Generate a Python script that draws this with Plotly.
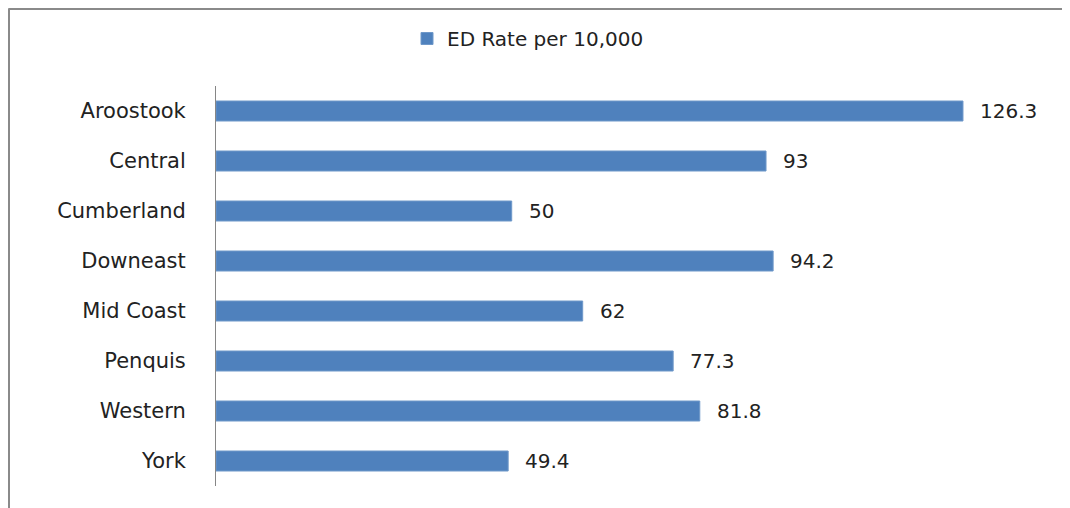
import plotly.graph_objects as go

regions = ["Aroostook", "Central", "Cumberland", "Downeast", "Mid Coast", "Penquis", "Western", "York"]
ed_rate = [126.3, 93, 50, 94.2, 62, 77.3, 81.8, 49.4]
series_name = "ED Rate per 10,000"

# page has an 8px body margin; figure is sized/offset to compensate
OFF = 8
W, H = 1070 - OFF, 508 - OFF
L, T = 216 - OFF, 86 - OFF
pw, ph = 828, 400
R, B = W - L - pw, H - T - ph

def px_x(p):
    return (p - L) / pw

def px_y(p):
    return (H - B - p) / ph

font = "DejaVu Sans"
txt_color = "#222222"

fig = go.Figure(go.Bar(
    x=ed_rate, y=regions, orientation="h", name=series_name,
    marker=dict(color="#4F81BD", line=dict(color="#6F98C9", width=1)),
    width=0.4, showlegend=True,
))

for r, v in zip(regions, ed_rate):
    fig.add_annotation(x=v, y=r, text=f"{v:g}", showarrow=False, xanchor="left",
                       xshift=15, font=dict(family=font, size=20, color=txt_color))

fig.add_shape(type="line", xref="paper", yref="paper", x0=px_x(0.5), x1=px_x(W + 5),
              y0=px_y(0.5), y1=px_y(0.5), line=dict(color="#8a8a8a", width=3))
fig.add_shape(type="line", xref="paper", yref="paper", x0=px_x(0.5), x1=px_x(0.5),
              y0=px_y(0.5), y1=px_y(H + 5), line=dict(color="#8a8a8a", width=3))

fig.update_layout(
    width=W, height=H,
    margin=dict(l=L, r=R, t=T, b=B),
    paper_bgcolor="white", plot_bgcolor="white",
    font=dict(family=font, size=20, color=txt_color),
    xaxis=dict(range=[0, 140], visible=False),
    yaxis=dict(autorange="reversed", showline=True, linecolor="#868686", linewidth=1,
               showgrid=False, ticks="", ticklabelstandoff=25,
               tickfont=dict(family=font, size=21, color=txt_color)),
    legend=dict(orientation="h", xref="container", yref="container",
                x=399 / W, y=1 - 11 / H, xanchor="left", yanchor="top",
                font=dict(family=font, size=20, color=txt_color)),
    bargap=0.6,
)

fig.write_html("out.html")
